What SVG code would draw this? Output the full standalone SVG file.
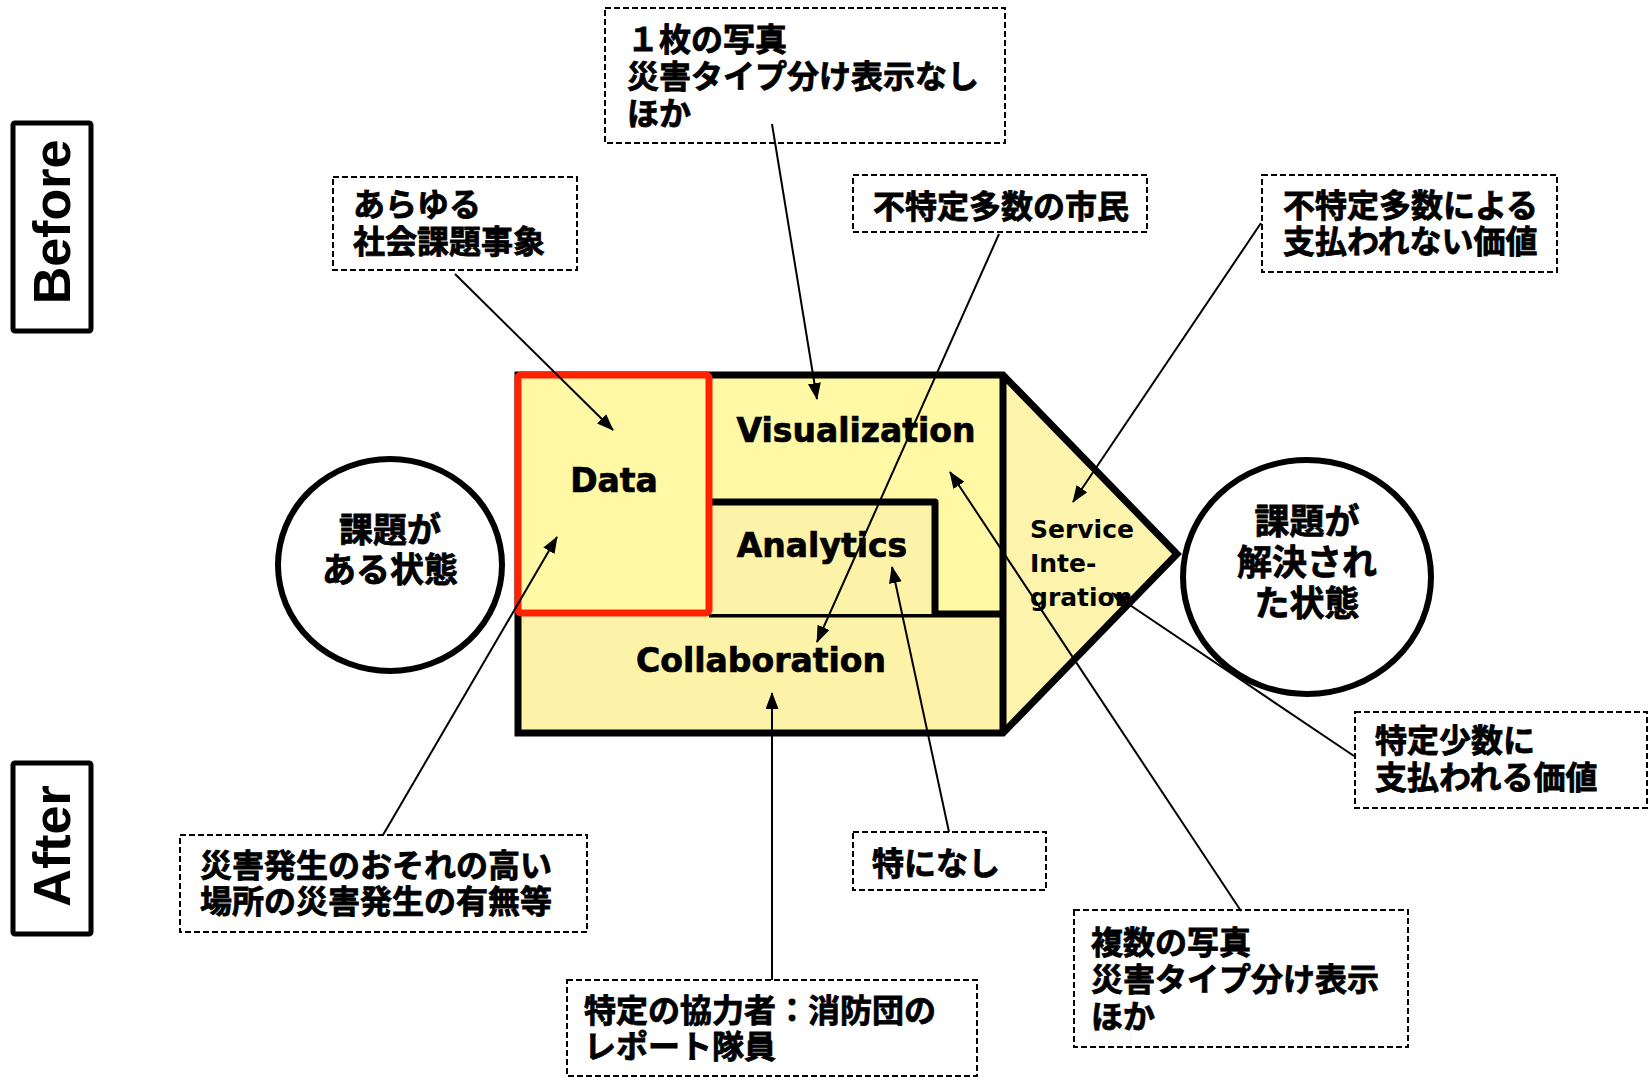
<svg xmlns="http://www.w3.org/2000/svg" width="1652" height="1080" viewBox="0 0 1652 1080">
  <style>
    .jp { font-family: "Noto Sans CJK JP", "Noto Sans", sans-serif; font-weight: bold; font-size: 32px; fill: #000; stroke: #000; stroke-width: 0.8px; }
    .jpc { font-family: "Noto Sans CJK JP", "Noto Sans", sans-serif; font-weight: bold; font-size: 35px; fill: #000; stroke: #000; stroke-width: 0.8px; text-anchor: middle; }
    .lat { font-family: "DejaVu Sans", Verdana, sans-serif; font-weight: bold; font-size: 33px; fill: #000; stroke: #000; stroke-width: 0.7px; text-anchor: middle; }
    .si { font-family: "DejaVu Sans", Verdana, sans-serif; font-weight: bold; font-size: 25px; fill: #000; }
    .tag { font-family: "Liberation Sans", Arial, sans-serif; font-weight: bold; font-size: 52px; fill: #000; text-anchor: middle; }
    .tagbox { fill: #fff; stroke: #000; stroke-width: 5; }
    .note { fill: none; stroke: #000; stroke-width: 2; stroke-dasharray: 6 3; }
    .state { fill: #fff; stroke: #000; stroke-width: 6; }
    .edge { fill: none; stroke: #000; stroke-width: 2; marker-end: url(#ah); }
    .thick { fill: none; stroke: #000; stroke-width: 7; }
  </style>
  <defs>
    <marker id="ah" markerWidth="17" markerHeight="13" refX="16" refY="6.5" orient="auto" markerUnits="userSpaceOnUse">
      <path d="M0,0 L17,6.5 L0,13 Z" fill="#000"/>
    </marker>
  </defs>

  <rect width="1652" height="1080" fill="#fff"/>

  <!-- phase tags -->
  <g id="before">
    <rect class="tagbox" x="13" y="123" width="78" height="208" rx="2"/>
    <text class="tag" transform="translate(70,222) rotate(-90)">Before</text>
  </g>
  <g id="after">
    <rect class="tagbox" x="13" y="763" width="78" height="171" rx="2"/>
    <text class="tag" transform="translate(70,846) rotate(-90)">After</text>
  </g>

  <!-- start / goal states -->
  <g id="state-before">
    <ellipse class="state" cx="390" cy="565" rx="112" ry="106"/>
    <text class="jpc" x="390" y="542" style="font-size:34px">課題が</text>
    <text class="jpc" x="390" y="582" style="font-size:34px">ある状態</text>
  </g>
  <g id="state-after">
    <ellipse class="state" cx="1307" cy="577" rx="124" ry="117"/>
    <text class="jpc" x="1307" y="534">課題が</text>
    <text class="jpc" x="1307" y="575">解決され</text>
    <text class="jpc" x="1307" y="616">た状態</text>
  </g>

  <!-- layered service arrow -->
  <g id="service-integration">
    <path d="M1003,375 L1177,554 L1003,733 Z" fill="#FCF3AC"/>
    <text class="si" x="1030" y="538">Service</text>
    <text class="si" x="1030" y="572">Inte-</text>
    <text class="si" x="1030" y="606">gration</text>
  </g>
  <g id="visualization">
    <rect x="518" y="375" width="485" height="239" fill="#FFF9A6"/>
    <text class="lat" x="856" y="442">Visualization</text>
  </g>
  <g id="collaboration">
    <rect x="518" y="614" width="485" height="119" fill="#FCF2A8"/>
    <text class="lat" x="761" y="672">Collaboration</text>
  </g>
  <g id="frame">
    <path class="thick" d="M518,375 H1003 L1177,554 L1003,733 H518 Z" stroke-linejoin="miter"/>
    <path class="thick" d="M1003,375 V733 M709,614 H1003"/>
  </g>
  <g id="analytics">
    <path d="M709,502 H935 V614 H709 Z" fill="#FCF2A8"/>
    <path class="thick" d="M709,502 H935 V614" stroke-linejoin="round"/>
    <text class="lat" x="822" y="557">Analytics</text>
  </g>
  <g id="data">
    <rect x="518" y="375" width="191" height="238" rx="3" fill="#FFF9A6" stroke="#FF2200" stroke-width="7"/>
    <text class="lat" x="614" y="492">Data</text>
  </g>

  <!-- callout notes -->
  <g id="note-photo-before">
    <rect class="note" x="605" y="8" width="400" height="135"/>
    <text class="jp" x="627" y="51">１枚の写真</text>
    <text class="jp" x="627" y="88">災害タイプ分け表示なし</text>
    <text class="jp" x="627" y="125">ほか</text>
  </g>
  <g id="note-issues">
    <rect class="note" x="333" y="177" width="244" height="93"/>
    <text class="jp" x="353" y="216">あらゆる</text>
    <text class="jp" x="353" y="253">社会課題事象</text>
  </g>
  <g id="note-citizens">
    <rect class="note" x="853" y="175" width="294" height="57"/>
    <text class="jp" x="873" y="218">不特定多数の市民</text>
  </g>
  <g id="note-unpaid">
    <rect class="note" x="1262" y="175" width="295" height="97"/>
    <text class="jp" x="1283" y="217">不特定多数による</text>
    <text class="jp" x="1283" y="253">支払われない価値</text>
  </g>
  <g id="note-paid">
    <rect class="note" x="1355" y="712" width="292" height="96"/>
    <text class="jp" x="1375" y="752">特定少数に</text>
    <text class="jp" x="1375" y="789">支払われる価値</text>
  </g>
  <g id="note-hazard">
    <rect class="note" x="180" y="835" width="407" height="97"/>
    <text class="jp" x="200" y="877">災害発生のおそれの高い</text>
    <text class="jp" x="200" y="913">場所の災害発生の有無等</text>
  </g>
  <g id="note-none">
    <rect class="note" x="853" y="832" width="193" height="58"/>
    <text class="jp" x="872" y="875">特になし</text>
  </g>
  <g id="note-partners">
    <rect class="note" x="567" y="980" width="410" height="96"/>
    <text class="jp" x="584" y="1022">特定の協力者：消防団の</text>
    <text class="jp" x="584" y="1058">レポート隊員</text>
  </g>
  <g id="note-photo-after">
    <rect class="note" x="1074" y="910" width="334" height="137"/>
    <text class="jp" x="1091" y="954">複数の写真</text>
    <text class="jp" x="1091" y="991">災害タイプ分け表示</text>
    <text class="jp" x="1091" y="1028">ほか</text>
  </g>

  <!-- connectors -->
  <g id="connectors">
    <line class="edge" x1="455" y1="274" x2="613" y2="430"/>
    <line class="edge" x1="772" y1="124" x2="817" y2="399"/>
    <line class="edge" x1="999" y1="234" x2="817" y2="642"/>
    <line class="edge" x1="1261" y1="223" x2="1073" y2="502"/>
    <line class="edge" x1="1354" y1="756" x2="1112" y2="593"/>
    <line class="edge" x1="1241" y1="911" x2="950" y2="472"/>
    <line class="edge" x1="949" y1="832" x2="892" y2="567"/>
    <line class="edge" x1="772" y1="980" x2="772" y2="693"/>
    <line class="edge" x1="383" y1="835" x2="557" y2="537"/>
  </g>
</svg>
